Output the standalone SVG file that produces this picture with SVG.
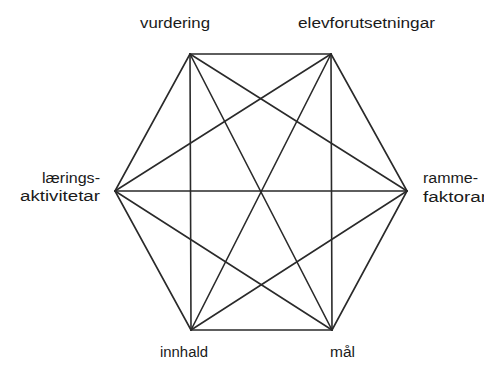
<svg xmlns="http://www.w3.org/2000/svg" width="484" height="366" viewBox="0 0 484 366">
<style>
.e{stroke:#2a2a2a;stroke-width:1.6;fill:none;stroke-linecap:round}
.t{font-family:"Liberation Sans",Arial,sans-serif;font-size:14px;fill:#1a1a1a}
</style>
<rect width="484" height="366" fill="#fff"/>
<g id="connectors">
<line class="e" x1="190" y1="54" x2="331" y2="54"/>
<line class="e" x1="190" y1="54" x2="407" y2="191"/>
<line class="e" x1="190" y1="54" x2="332" y2="330"/>
<line class="e" x1="190" y1="54" x2="191" y2="330"/>
<line class="e" x1="190" y1="54" x2="115" y2="191"/>
<line class="e" x1="331" y1="54" x2="407" y2="191"/>
<line class="e" x1="331" y1="54" x2="332" y2="330"/>
<line class="e" x1="331" y1="54" x2="191" y2="330"/>
<line class="e" x1="331" y1="54" x2="115" y2="191"/>
<line class="e" x1="407" y1="191" x2="332" y2="330"/>
<line class="e" x1="407" y1="191" x2="191" y2="330"/>
<line class="e" x1="407" y1="191" x2="115" y2="191"/>
<line class="e" x1="332" y1="330" x2="191" y2="330"/>
<line class="e" x1="332" y1="330" x2="115" y2="191"/>
<line class="e" x1="191" y1="330" x2="115" y2="191"/>
</g>
<g id="vurdering"><text class="t" x="140" y="28" textLength="70" lengthAdjust="spacingAndGlyphs">vurdering</text></g>
<g id="elevforutsetningar"><text class="t" x="298" y="28" textLength="137" lengthAdjust="spacingAndGlyphs">elevforutsetningar</text></g>
<g id="laeringsaktivitetar">
<text class="t" x="42" y="183" textLength="58" lengthAdjust="spacingAndGlyphs">lærings-</text>
<text class="t" x="20" y="201" textLength="80" lengthAdjust="spacingAndGlyphs">aktivitetar</text>
</g>
<g id="rammefaktorar">
<text class="t" x="423" y="183" textLength="55" lengthAdjust="spacingAndGlyphs">ramme-</text>
<text class="t" x="423" y="202" textLength="64" lengthAdjust="spacingAndGlyphs">faktorar</text>
</g>
<g id="innhald"><text class="t" x="160" y="357" textLength="48" lengthAdjust="spacingAndGlyphs">innhald</text></g>
<g id="maal"><text class="t" x="330" y="357" textLength="25" lengthAdjust="spacingAndGlyphs">mål</text></g>
</svg>
